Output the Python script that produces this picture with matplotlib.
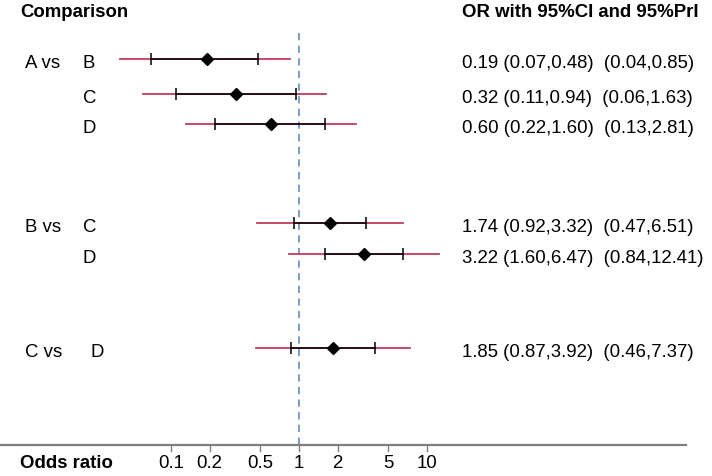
import matplotlib
matplotlib.use("Agg")
import matplotlib.pyplot as plt
import matplotlib.transforms as mtransforms

plt.rcParams["font.family"] = ["Liberation Sans", "DejaVu Sans"]

# data
first = ["A vs", "", "", "B vs", "", "C vs"]
second = ["B", "C", "D", "C", "D", "D"]
rows = [1, 2.08, 3, 6.05, 7, 9.9]
OR = [0.19, 0.32, 0.60, 1.74, 3.22, 1.85]
ci_lo = [0.07, 0.11, 0.22, 0.92, 1.60, 0.87]
ci_hi = [0.48, 0.94, 1.60, 3.32, 6.47, 3.92]
pri_lo = [0.04, 0.06, 0.13, 0.47, 0.84, 0.46]
pri_hi = [0.85, 1.63, 2.81, 6.51, 12.41, 7.37]
ticks = [0.1, 0.2, 0.5, 1, 2, 5, 10]
tick_labels = ["0.1", "0.2", "0.5", "1", "2", "5", "10"]

red = "#c63a5f"
fs = 13.4

fig = plt.figure(figsize=(7.12, 4.76), dpi=100)
ax = fig.add_axes([0, 0, 1, 1])
ax.set_xscale("log")
ax.set_xlim(10 ** (-299 / 128), 10 ** ((712 - 299) / 128))
ax.set_ylim(13.83, -0.815)
ax.axis("off")

tr = mtransforms.blended_transform_factory(ax.transAxes, ax.transData)

# reference line at OR = 1
ax.plot([1, 1], [0.2, 12.88], color="#6f96c6", lw=1.3, ls=(0, (4, 3)), zorder=1)

for i in range(len(OR)):
    y = rows[i]
    ax.plot([pri_lo[i], pri_hi[i]], [y, y], color=red, lw=1.3, zorder=2)
    ax.plot([ci_lo[i], ci_hi[i]], [y, y], color="black", lw=1.1, zorder=3)
    ax.plot([ci_lo[i], ci_hi[i]], [y, y], ls="none", marker="|", ms=9,
            mew=1.1, color="black", zorder=3)
    ax.plot(OR[i], y, marker="D", ms=6, color="black", zorder=4)
    ax.text(25 / 712, y + 0.13, first[i], fontsize=fs, va="center", transform=tr)
    xs = 90 / 712 if first[i] == "C vs" else 83 / 712
    ax.text(xs, y + 0.13, second[i], fontsize=fs, va="center", transform=tr)
    label = "%.2f (%.2f,%.2f)  (%.2f,%.2f)" % (OR[i], ci_lo[i], ci_hi[i],
                                               pri_lo[i], pri_hi[i])
    ax.text(462 / 712, y + 0.13, label, fontsize=fs, va="center", transform=tr)

# headers
ax.text(20 / 712, -0.43, "Comparison", fontsize=fs, fontweight="bold",
        va="center", transform=tr)
ax.text(462 / 712, -0.43, "OR with 95%CI and 95%PrI", fontsize=fs,
        fontweight="bold", va="center", transform=tr)

# bottom axis
ax.plot([0, 686 / 712], [12.88, 12.88], color="#7f7f7f", lw=1.6,
        transform=tr, clip_on=False)
for t, lab in zip(ticks, tick_labels):
    ax.plot([t, t], [12.88, 13.05], color="#7f7f7f", lw=1.0)
    ax.text(t, 13.45, lab, fontsize=fs, ha="center", va="center")
ax.text(20 / 712, 13.45, "Odds ratio", fontsize=fs, fontweight="bold",
        va="center", transform=tr)

fig.savefig("out.png", dpi=100)
